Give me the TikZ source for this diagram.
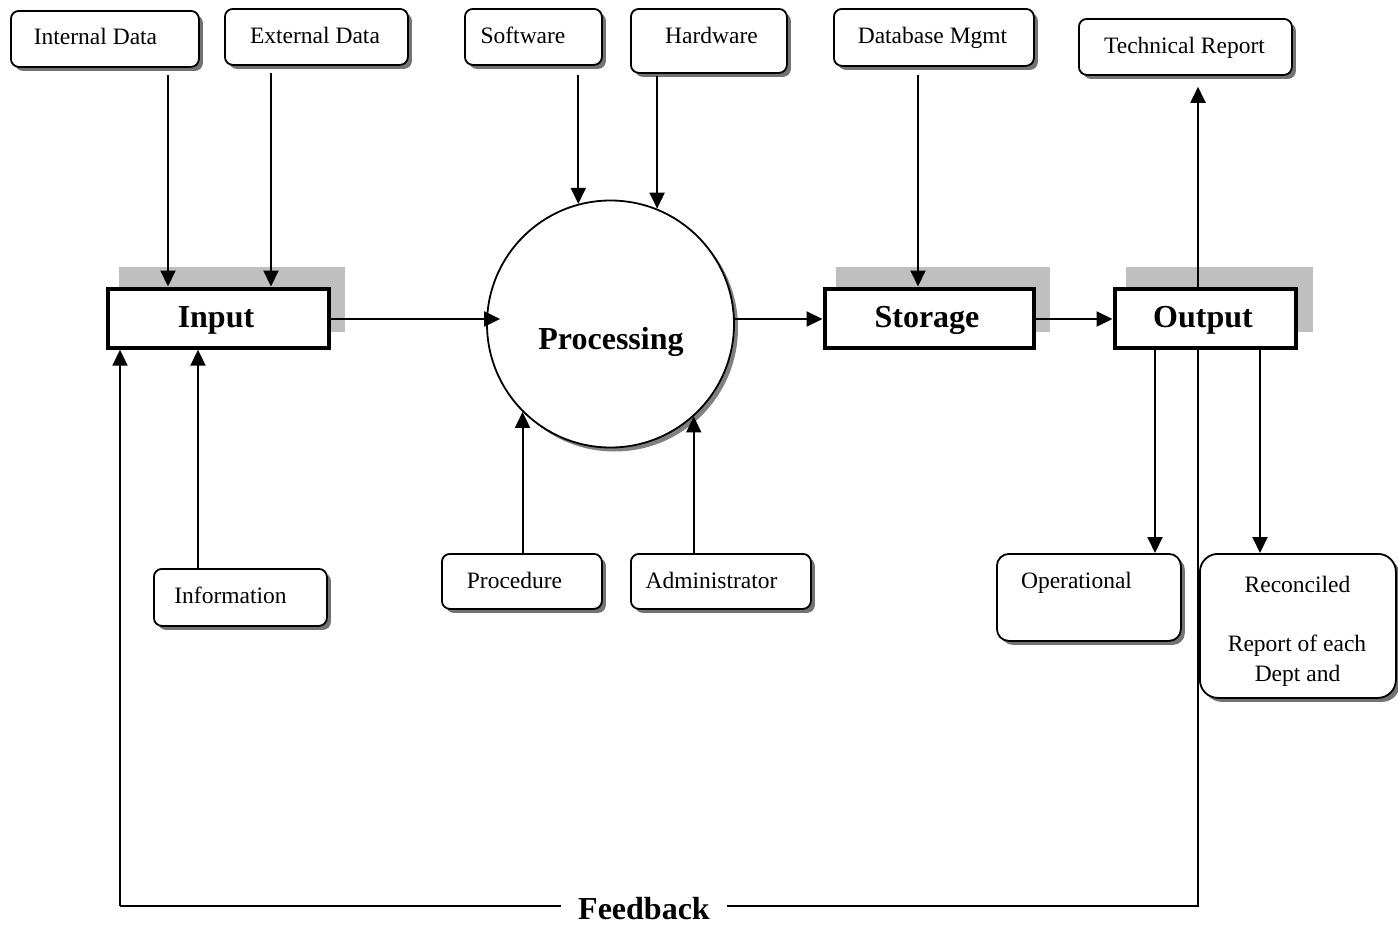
\documentclass[tikz,border=0pt]{standalone}
\usepackage{fontspec}
\setmainfont{Liberation Serif}
\usetikzlibrary{arrows.meta,shadows}

\tikzset{
  shade/.style={drop shadow={shadow xshift=4pt,shadow yshift=-4pt,fill=black!55,opacity=1}},
  rbox/.style={draw,line width=1.8pt,rounded corners=8pt,fill=white,shade,
    anchor=north west,inner sep=0pt},
  mainbox/.style={draw,line width=4.2pt,fill=white,anchor=north west,inner sep=0pt},
  plate/.style={fill=black!25,draw=none,anchor=north west,inner sep=0pt},
  txt/.style={font=\fontsize{23.5}{28}\selectfont,anchor=base,inner sep=0pt},
  btxt/.style={font=\fontsize{32}{38}\selectfont\bfseries,anchor=base,inner sep=0pt},
  wire/.style={line width=2pt},
  arr/.style={wire,-{Triangle[length=16pt,width=15pt]}},
}

\begin{document}
\begin{tikzpicture}[x=1pt,y=-1pt]
\useasboundingbox (0,0) rectangle (1398,926);

% grey plates behind the three stage boxes
\node[plate,minimum width=226pt,minimum height=65pt] (inpP) at (119,267) {};
\node[plate,minimum width=214pt,minimum height=65pt] (stoP) at (836,267) {};
\node[plate,minimum width=187pt,minimum height=65pt] (outP) at (1126,267) {};

% stage boxes
\node[mainbox,minimum width=221pt,minimum height=59pt] (inp) at (105.5,286.5) {};
\node[mainbox,minimum width=209pt,minimum height=59pt] (sto) at (822.5,286.5) {};
\node[mainbox,minimum width=181pt,minimum height=59pt] (out) at (1112.5,286.5) {};
\node[btxt] (inpT) at (216,327) {Input};
\node[btxt] (stoT) at (927,327) {Storage};
\node[btxt] (outT) at (1203,327) {Output};

% processing circle
\node[circle,draw,line width=1.8pt,fill=white,minimum size=247pt,inner sep=0pt,
  drop shadow={shadow xshift=4pt,shadow yshift=-4pt,fill=black!50,opacity=1}]
  (proc) at (610.5,324) {};
\node[btxt] (procT) at (611,349) {Processing};

% rounded resource boxes
\node[rbox,minimum width=188pt,minimum height=56pt] (intd) at (10,10) {};
\node[rbox,minimum width=183pt,minimum height=56pt] (extd) at (224,8) {};
\node[rbox,minimum width=137pt,minimum height=56pt] (soft) at (464,8) {};
\node[rbox,minimum width=156pt,minimum height=64pt] (hard) at (630,8) {};
\node[rbox,minimum width=200pt,minimum height=57pt] (dbm) at (833,8) {};
\node[rbox,minimum width=213pt,minimum height=56pt] (tech) at (1078,18) {};
\node[rbox,minimum width=173pt,minimum height=57pt] (info) at (153,568) {};
\node[rbox,minimum width=160pt,minimum height=55pt] (pcd) at (441,553) {};
\node[rbox,minimum width=180pt,minimum height=55pt] (adm) at (630,553) {};
\node[rbox,rounded corners=12pt,minimum width=184pt,minimum height=87pt] (oper) at (996,553) {};
\node[rbox,rounded corners=18pt,minimum width=196pt,minimum height=144pt] (rec) at (1199,553) {};

\node[txt] (intdT) at (95.5,44) {Internal Data};
\node[txt] (extdT) at (315,43) {External Data};
\node[txt] (softT) at (523,43) {Software};
\node[txt] (hardT) at (711.5,43) {Hardware};
\node[txt] (dbmT) at (932.5,43) {Database Mgmt};
\node[txt] (techT) at (1184.5,53) {Technical Report};
\node[txt] (infoT) at (230.5,603) {Information};
\node[txt] (pcdT) at (514.5,588) {Procedure};
\node[txt] (admT) at (711.5,588) {Administrator};
\node[txt] (operT) at (1076.5,588) {Operational};
\node[txt] (recT1) at (1297.5,592) {Reconciled};
\node[txt] (recT2) at (1297,651) {Report of each};
\node[txt] (recT3) at (1297.5,681) {Dept and};

% connector columns
\coordinate (xInt) at (168,0);
\coordinate (xExt) at (271,0);
\coordinate (xDb) at (918,0);
\coordinate (xTech) at (1198,0);
\coordinate (xInfo) at (198,0);
\coordinate (xOper) at (1155,0);
\coordinate (xRec) at (1260,0);
\coordinate (row) at (0,319);

% data into input
\draw[arr,shorten <=7pt] (intd.south -| xInt) -- (inp.north -| xInt);
\draw[arr,shorten <=7pt] (extd.south -| xExt) -- (inp.north -| xExt);
\draw[arr] (info.north -| xInfo) -- (inp.south -| xInfo);

% resources into processing
\draw[arr,shorten <=9pt] (soft.south -| proc.105.2) -- (proc.105.2);
\draw[arr,shorten <=2pt] (hard.south -| proc.68.5) -- (proc.68.5);
\draw[arr] (pcd.north -| proc.225.1) -- (proc.225.1);
\draw[arr] (adm.north -| proc.312.9) -- (proc.312.9);

% main flow
\draw[arr] (inp.east |- row) -- ([xshift=14pt]proc.west |- row);
\draw[arr] (proc.east |- row) -- (sto.west |- row);
\draw[arr] (sto.east |- row) -- (out.west |- row);
\draw[arr,shorten <=8pt] (dbm.south -| xDb) -- (sto.north -| xDb);

% outputs
\draw[arr,shorten >=11pt] (out.north -| xTech) -- (tech.south -| xTech);
\draw[arr] (out.south -| xOper) -- (oper.north -| xOper);
\draw[arr] (out.south -| xRec) -- (rec.north -| xRec);

% feedback loop
\coordinate (fbR) at (1198,906);
\coordinate (fbL) at (120,906);
\draw[wire] (out.south -| fbR) -- (fbR) -- (fbL);
\draw[arr] (fbL) -- (inp.south -| fbL);
\node[btxt,fill=white,inner xsep=17pt,inner ysep=0pt] (fbT) at (644,919) {Feedback};
\end{tikzpicture}
\end{document}
